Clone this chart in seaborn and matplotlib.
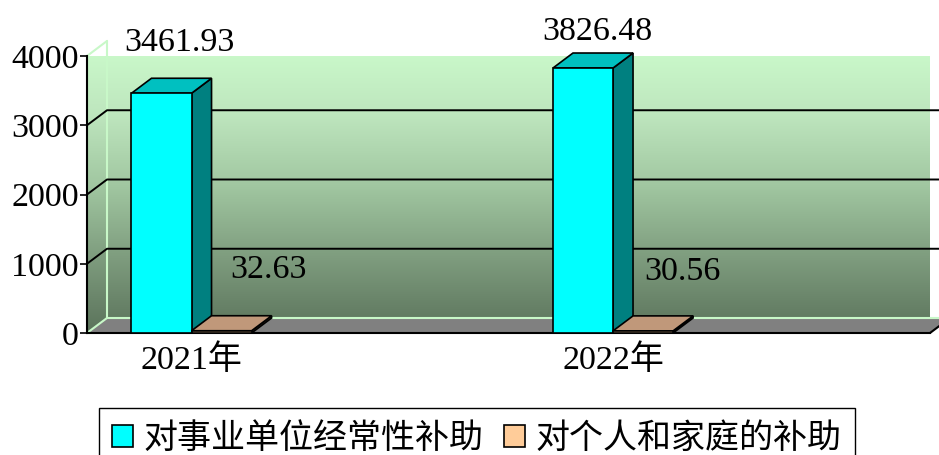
import numpy as np
import pandas as pd
import matplotlib
matplotlib.use('Agg')
import matplotlib.pyplot as plt
import matplotlib.transforms as mtransforms
from matplotlib.patches import Polygon, Patch, Rectangle
from matplotlib.lines import Line2D
from matplotlib.colors import LinearSegmentedColormap
import seaborn as sns

# data
years = ['2021年', '2022年']
series = ['对事业单位经常性补助', '对个人和家庭的补助']
unit_subsidy = [3461.93, 3826.48]
family_subsidy = [32.63, 30.56]
y_ticks = [0, 1000, 2000, 3000, 4000]

df = pd.DataFrame({
    'year': years * 2,
    'type': [series[0]] * 2 + [series[1]] * 2,
    'value': unit_subsidy + family_subsidy,
})

sns.set_style('white')
plt.rcParams['font.family'] = ['Liberation Serif', 'Noto Sans CJK SC', 'DejaVu Sans']
plt.rcParams['text.color'] = 'black'

front_cols = ['#00FFFF', '#FFCC99']
side_cols = ['#008080', '#A07850']
top_cols = ['#00C0C0', '#C0987A']

W, H = 939, 455
fig = plt.figure(figsize=(W / 100, H / 100), dpi=100)
ax = fig.add_axes([87 / W, 1 - 333 / H, (930 - 87) / W, (333 - 56) / H])
ax.set_facecolor('none')

sns.barplot(data=df, x='year', y='value', hue='type', palette=front_cols,
            saturation=1, width=0.285, edgecolor='black', linewidth=1.2, ax=ax,
            legend=False, err_kws={'linewidth': 0})
bars = sorted([p for p in ax.patches if isinstance(p, Rectangle) and p.get_height() > 0],
              key=lambda p: p.get_x())


def kind(b):
    return 0 if b.get_facecolor()[0] < 0.5 else 1


xlim = (-0.248, 1.752)
ax.set_xlim(*xlim)
ax.set_ylim(0, 4000)
ax.set_yticks(y_ticks)
ax.set_xlabel('')
ax.set_ylabel('')
fig.canvas.draw()

DX, DY = 20, 15  # depth of the 3d box, pixels
ident = mtransforms.IdentityTransform()
td = ax.transData


def px(x, y):
    return td.transform((x, y))


def back(p):
    return (p[0] + DX, p[1] + DY)


# walls: gradient clipped to left wall + back wall
fl0, fr0 = px(xlim[0], 0), px(xlim[1], 0)
ft0 = px(xlim[0], 4000)
wall = Polygon([fl0, back(fl0), back(fr0), (back(fr0)[0], back(ft0)[1]),
                back(ft0), ft0], closed=True, transform=ident,
               facecolor='none', edgecolor='none')
cmap = LinearSegmentedColormap.from_list(
    'wall', [(0, '#5B735B'), (0.25, '#7D9B7D'), (0.5, '#A0C6A0'),
             (0.75, '#BEE6BE'), (1, '#CCFCCC')])
grad = np.linspace(1, 0, 256).reshape(-1, 1)
img = ax.imshow(grad, cmap=cmap, aspect='auto',
                extent=[fl0[0], back(fr0)[0], fl0[1], back(ft0)[1]],
                transform=ident, zorder=0)
img.set_clip_path(wall)
ax.set_xlim(*xlim)
ax.set_ylim(0, 4000)

# floor
floor = Polygon([fl0, fr0, back(fr0), back(fl0)], closed=True, transform=ident,
                facecolor='#808080', edgecolor='none', zorder=0.5, clip_on=False)
ax.add_artist(floor)
lg = '#C8F8C8'
edges = [(back(fl0), back(fr0), lg), (fl0, back(fl0), lg),
         (back(fl0), back(ft0), lg), (ft0, back(ft0), lg),
         (fr0, back(fr0), 'black')]
for a, b, c in edges:
    ax.add_artist(Line2D([a[0], b[0]], [a[1], b[1]], color=c, lw=1.5,
                         transform=ident, zorder=0.6, clip_on=False))

# gridlines on left and back wall
for v in y_ticks[1:-1]:
    a = px(xlim[0], v)
    b = back(a)
    c = back(px(xlim[1], v))
    ax.add_artist(Line2D([a[0], b[0], c[0]], [a[1], b[1], c[1]], color='black',
                         lw=1.4, transform=ident, zorder=0.7, clip_on=False))

# 3d bar faces
for i, bar in enumerate(bars):
    k = kind(bar)
    x0, x1 = bar.get_x(), bar.get_x() + bar.get_width()
    h = bar.get_height()
    p10, p11, p01 = px(x1, 0), px(x1, h), px(x0, h)
    z = 2 + i
    side = Polygon([p10, back(p10), back(p11), p11], closed=True, transform=ident,
                   facecolor=side_cols[k], edgecolor='black', lw=1.2, zorder=z,
                   clip_on=False)
    top = Polygon([p01, p11, back(p11), back(p01)], closed=True, transform=ident,
                  facecolor=top_cols[k], edgecolor='black', lw=1.2, zorder=z,
                  clip_on=False)
    ax.add_artist(side)
    ax.add_artist(top)
    bar.set_zorder(z + 0.5)

# value labels (offsets in pixels from bar front centre / top)
label_off = {(0, 0): (18, 42), (1, 0): (14, 28), (0, 1): (47, 53), (1, 1): (39, 51)}
for i, yr in enumerate(years):
    for k, vals in enumerate([unit_subsidy, family_subsidy]):
        b = [p for p in bars if kind(p) == k][i]
        dx, dy = label_off[(i, k)]
        ax.annotate(f'{vals[i]:.2f}', (b.get_x() + b.get_width() / 2, vals[i]),
                    xytext=(dx * 0.72, dy * 0.72), textcoords='offset points',
                    ha='center', va='baseline', fontsize=24.5, color='black',
                    zorder=20, annotation_clip=False)

# axes styling
for s in ['top', 'right']:
    ax.spines[s].set_visible(False)
for s in ['left', 'bottom']:
    ax.spines[s].set_color('black')
    ax.spines[s].set_linewidth(1.5)
    ax.spines[s].set_zorder(1)
ax.set_xticks([0, 1])
ax.set_xticklabels(years, fontsize=24.5)
ax.set_xticks([0.25, 0.75, 1.25], minor=True)
ax.tick_params(axis='x', which='major', length=0, pad=8, labelcolor='black')
ax.tick_params(axis='x', which='minor', direction='in', length=5, width=1.2, color='black')
ax.tick_params(axis='y', which='major', direction='out', length=5, width=1.2,
               color='black', labelcolor='black', labelsize=24.5, pad=1, left=True)
ax.set_yticklabels([str(v) for v in y_ticks])

handles = [Patch(facecolor=c, edgecolor='black', lw=1.2) for c in front_cols]
leg = fig.legend(handles, series, loc='upper left', bbox_to_anchor=(99 / W, 1 - 408 / H),
                 ncol=2, frameon=True, fancybox=False, edgecolor='black',
                 framealpha=1, handlelength=0.63, handleheight=0.63, handletextpad=0.3,
                 columnspacing=0.6, borderpad=0.38, borderaxespad=0,
                 prop={'family': ['Noto Sans CJK SC'], 'size': 24.5})
for t in leg.get_texts():
    t.set_color('black')

fig.savefig('out.png', dpi=100)
